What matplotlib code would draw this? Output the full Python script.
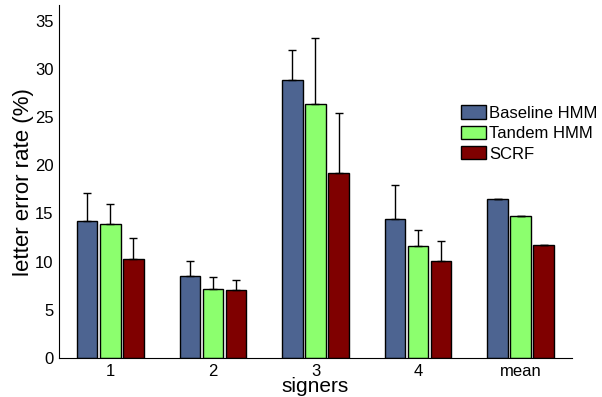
import numpy as np
import matplotlib
matplotlib.use('Agg')
import matplotlib.pyplot as plt

plt.rcParams['font.family'] = ['Liberation Sans', 'DejaVu Sans']

# data
groups = ['1', '2', '3', '4', 'mean']
series = ['Baseline HMM', 'Tandem HMM', 'SCRF']
baseline = [14.2, 8.5, 28.8, 14.4, 16.5]
tandem = [13.9, 7.2, 26.3, 11.6, 14.75]
scrf = [10.3, 7.1, 19.2, 10.1, 11.7]
baseline_err = [2.9, 1.55, 3.2, 3.6, 0.0]
tandem_err = [2.1, 1.2, 6.9, 1.7, 0.0]
scrf_err = [2.2, 1.05, 6.2, 2.05, 0.0]

colors = ['#4d6491', '#8cff6e', '#7f0000']

fig = plt.figure(figsize=(6.02, 3.97), dpi=100)
ax = fig.add_axes([0.098, 0.098, 0.852, 0.889])

x = np.arange(1, len(groups) + 1)
width = 0.2
offsets = [-0.225, 0.0, 0.225]
vals = [baseline, tandem, scrf]
errs = [baseline_err, tandem_err, scrf_err]

# bars with upper-only error bars
for v, e, off, c, name in zip(vals, errs, offsets, colors, series):
    ax.bar(x + off, v, width, color=c, edgecolor='k', linewidth=1, label=name, zorder=2)
    ax.errorbar(x + off, v, yerr=[np.zeros(len(e)), e], fmt='none',
                ecolor='k', elinewidth=1, capsize=3, capthick=1, zorder=3)

ax.set_xlim(0.5, 5.5)
ax.set_ylim(0, 36.6)
ax.set_xticks(x)
ax.set_xticklabels(groups)
ax.set_yticks(np.arange(0, 36, 5))
ax.tick_params(axis='both', length=0, labelsize=12, pad=4)

ax.spines['top'].set_visible(False)
ax.spines['right'].set_visible(False)

ax.set_xlabel('signers', fontsize=15, labelpad=-1)
ax.set_ylabel('letter error rate (%)', fontsize=16, labelpad=0.5)

ax.legend(loc='upper left', bbox_to_anchor=(0.77, 0.735), frameon=False,
          fontsize=12, handlelength=1.55, handleheight=0.85,
          handletextpad=0.18, labelspacing=0.3, borderaxespad=0)

fig.savefig('out.png', dpi=100)
